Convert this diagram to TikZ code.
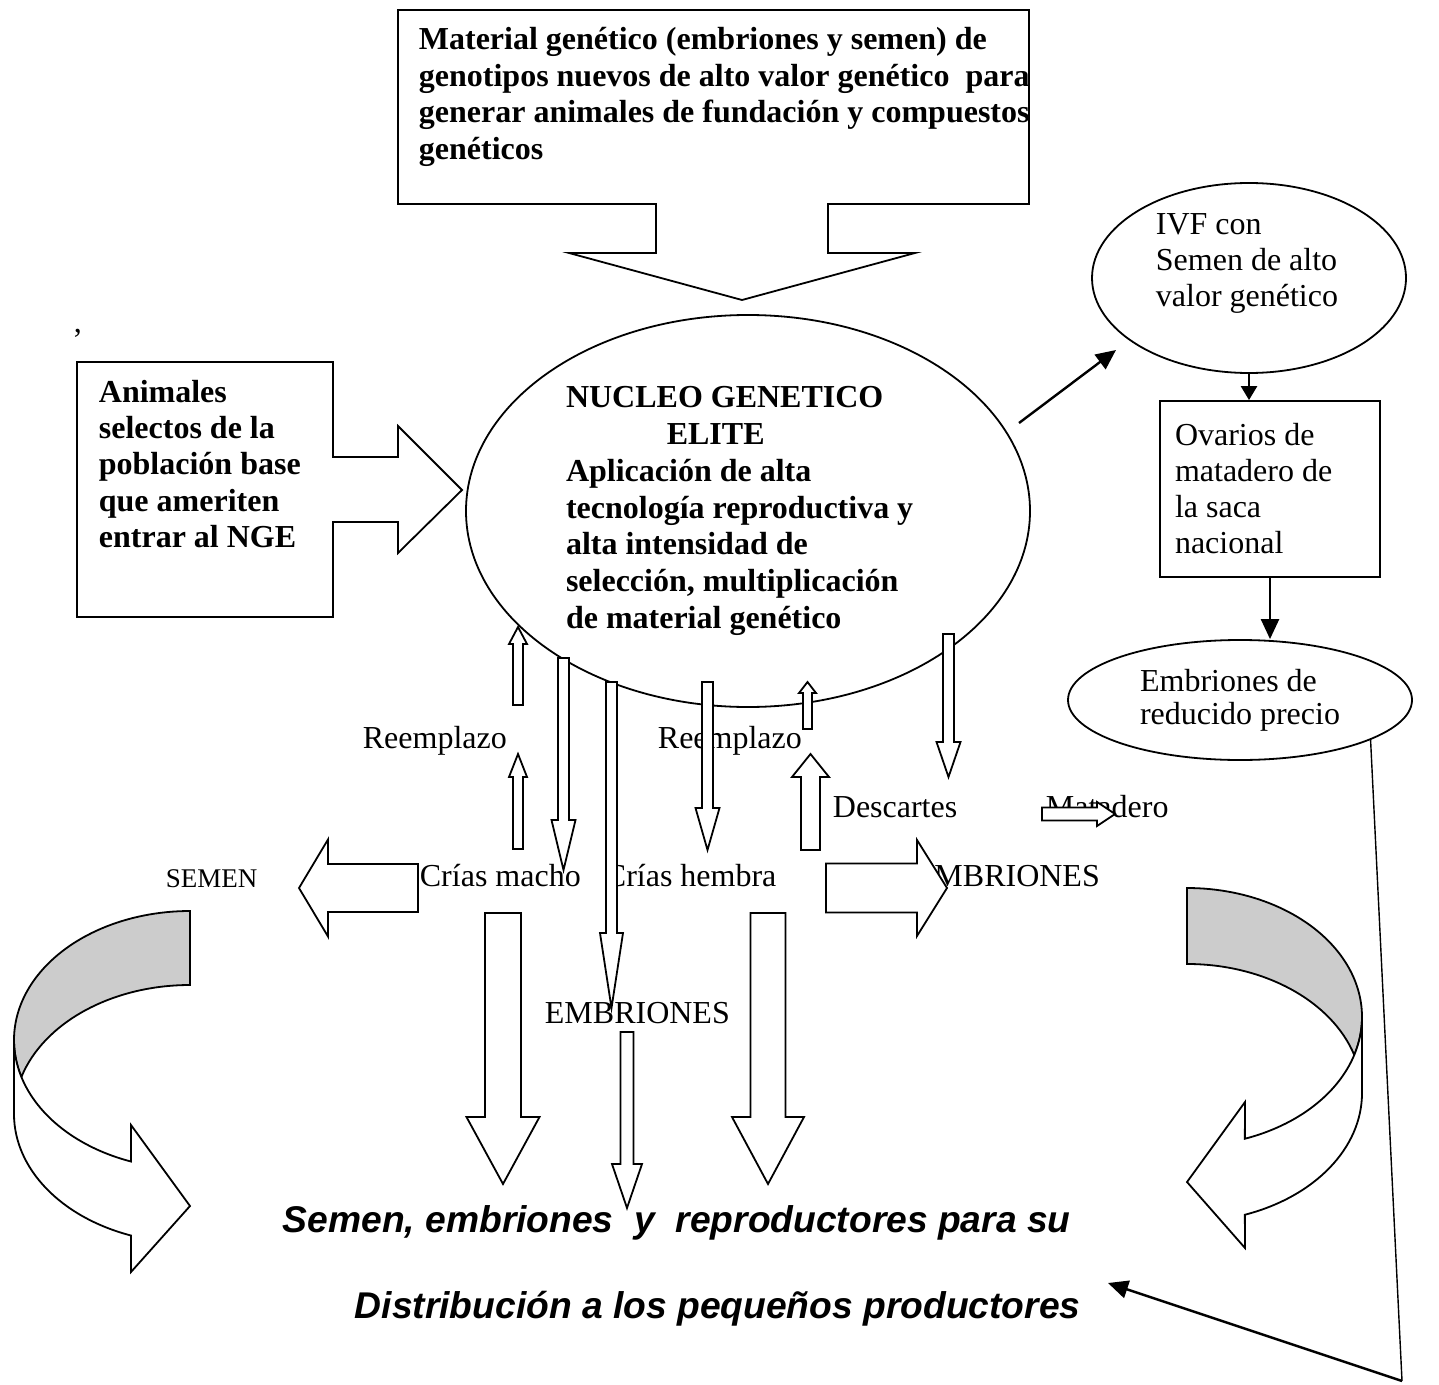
\documentclass[tikz,border=0pt]{standalone}
\usepackage{fontspec}
\setmainfont{Liberation Serif}
\newfontfamily\arialfont{Liberation Sans}
\usetikzlibrary{arrows.meta,shapes.geometric}

\begin{document}
\begin{tikzpicture}[x=0.5pt,y=-0.5pt,line width=0.9pt]
\tikzset{lbl/.style={inner sep=0pt, font=\fontsize{16}{18}\selectfont},
  blbl/.style={inner sep=0pt, font=\fontsize{16}{18.2}\selectfont\bfseries},
  blk/.style={draw, fill=white, line join=miter},
  oval/.style={draw, ellipse, fill=white, inner sep=0pt},
  flow/.style={-{Triangle[length=10pt,width=9pt]}, line width=1.2pt},
  big/.style={inner sep=0pt, font=\fontsize{18.6}{20}\selectfont\arialfont\bfseries\itshape}};
   \useasboundingbox (0,0) rectangle (1439,1385);

   % top callout
   \draw[fill=white] (398,10) -- (1029,10) -- (1029,204) -- (828,204) -- (828,253) -- (915,253)
      -- (742,300) -- (569,253) -- (656,253) -- (656,204) -- (398,204) -- cycle;
   \node[blbl, anchor=base west, text width=345pt, align=flush left] (material) at (418,50)
      {Material genético (embriones y semen) de\\genotipos nuevos de alto valor genético\ \ para\\generar animales de fundación y compuestos\\genéticos};

   % left callout
   \node[lbl, anchor=base west] (coma) at (73,333) {,};
   \draw[fill=white] (77,362) -- (333,362) -- (333,457) -- (398,457) -- (398,426) -- (462,490)
      -- (398,553) -- (398,522) -- (333,522) -- (333,617) -- (77,617) -- cycle;
   \node[blbl, anchor=base west, text width=120pt, align=flush left] (animales) at (98,402)
      {Animales\\selectos de la\\población base\\que ameriten\\entrar al NGE};

   \node[oval, minimum width=282pt, minimum height=196pt, text width=182pt, align=flush left,
      font=\fontsize{16}{18.4}\selectfont\bfseries] (nucleo) at (748,511)
      {NUCLEO GENETICO\\\hspace{3.15em}ELITE\\Aplicación de alta\\tecnología reproductiva y\\alta intensidad de\\selección, multiplicación\\de material genético};

   % right column
   \node[oval, minimum width=157pt, minimum height=95pt] (ivf) at (1249,278) {};
   \node[lbl, anchor=base west, text width=100pt, align=flush left] (ivftxt) at (1155,235)
      {IVF con\\Semen de alto\\valor genético};
   \node[draw, lbl, minimum width=110pt, minimum height=88pt, text width=95pt, align=flush left] (ovarios) at (1270,489)
      {Ovarios de\\matadero de\\la saca\\nacional};
   \node[oval, minimum width=172pt, minimum height=60pt, align=left,
      font=\fontsize{16}{16.5}\selectfont] (embr) at (1240,700) {Embriones de\\reducido precio};

   \coordinate (ngout) at (1019,423);
   \coordinate (ivfin) at (1116,350);
   \draw[flow] (ngout) -- (ivfin);
   \draw[flow, -{Triangle[length=7pt,width=8pt]}] (ivf.south) -- (ivf.south |- ovarios.north);
   \draw[flow] (ovarios.south) -- (ovarios.south |- embr.north);

   \coordinate (bend) at (1402,1381);
   \coordinate (tipdist) at (1108,1283);
   \draw[line width=0.7pt] (embr.-17) -- (bend);
   \draw[flow] (bend) -- (tipdist);

   % labels
   \node[lbl, anchor=base west] (reemp1) at (362,748) {Reemplazo};
   \node[lbl, anchor=base west] (reemp2) at (657,748) {Reemplazo};
   \node[lbl, anchor=base west] (machos) at (419,886) {Crías macho};
   \node[lbl, anchor=base west] (hembras) at (604,886) {Crías hembra};
   \node[lbl, anchor=base west] (descartes) at (832,817) {Descartes};
   \node[lbl, anchor=base west] (matadero) at (1045,817) {Matadero};
   \node[lbl, anchor=base west] (embrder) at (914,886) {EMBRIONES};
   \node[lbl, anchor=base west, font=\fontsize{13.5}{15}\selectfont] (semen) at (165,887) {SEMEN};
   \node[lbl, anchor=base west] (embrcen) at (544,1023) {EMBRIONES};
   \node[big, anchor=base west] (distrib1) at (282,1232) {Semen, embriones\ \ y\ \ reproductores para su};
   \node[big, anchor=base west] (distrib2) at (354,1318) {Distribución a los pequeños productores};

   % block arrows, vertical
   \foreach \x/\ya/\yb/\yc/\s/\h in {518/705/644/627/5/9, 518/849/777/754/5/9,
      563.5/658/820/870/5.5/12, 611.5/682/933/1008/5.5/11.5, 627/1032/1164/1208/6.5/15,
      707.5/682/808/850/5.5/12, 807.5/729/693/682/4.5/8.5, 810.5/850/777/754/9.5/18.5,
      948.5/634/742/777/5.5/12, 503/913/1117/1184/18/36.5, 768/913/1117/1184/17.5/36}
     \draw[blk] (\x-\s,\ya) -- (\x-\s,\yb) -- (\x-\h,\yb) -- (\x,\yc) -- (\x+\h,\yb) -- (\x+\s,\yb) -- (\x+\s,\ya) -- cycle;
   % block arrows, horizontal
   \foreach \y/\xa/\xb/\xc/\s/\h in {888/418/328/299/24/48.5, 888/826/917/947/24.5/48, 814/1042/1097/1115/6.5/12}
     \draw[blk] (\xa,\y-\s) -- (\xb,\y-\s) -- (\xb,\y-\h) -- (\xc,\y) -- (\xb,\y+\h) -- (\xb,\y+\s) -- (\xa,\y+\s) -- cycle;

   % curved arrows
   \draw[fill=gray!40] (190,911) arc[start angle=270, end angle=163.33, x radius=176, y radius=129]
      arc[start angle=196.67, end angle=270, x radius=176, y radius=129] -- cycle;
   \draw[fill=white] ({190+176*cos(163.33)},{1040+129*sin(163.33)})
      arc[start angle=163.33, end angle=109.6, x radius=176, y radius=129]
      -- (131,1125) -- (190,1206) -- (131,1272) -- ({190+176*cos(109.6)},{1114+129*sin(109.6)})
      arc[start angle=109.6, end angle=180, x radius=176, y radius=129] -- (14,1040)
      arc[start angle=180, end angle=163.33, x radius=176, y radius=129] -- cycle;
   \draw[fill=gray!40] (1187,888) arc[start angle=270, end angle=377.13, x radius=175, y radius=129]
      arc[start angle=342.87, end angle=270, x radius=175, y radius=129] -- cycle;
   \draw[fill=white] ({1187+175*cos(17.13)},{1017+129*sin(17.13)})
      arc[start angle=17.13, end angle=70.7, x radius=175, y radius=129]
      -- (1245,1102) -- (1187,1182) -- (1245,1248) -- ({1187+175*cos(70.7)},{1093+129*sin(70.7)})
      arc[start angle=70.7, end angle=0, x radius=175, y radius=129] -- (1362,1017)
      arc[start angle=0, end angle=17.13, x radius=175, y radius=129] -- cycle;

\end{tikzpicture}
\end{document}
